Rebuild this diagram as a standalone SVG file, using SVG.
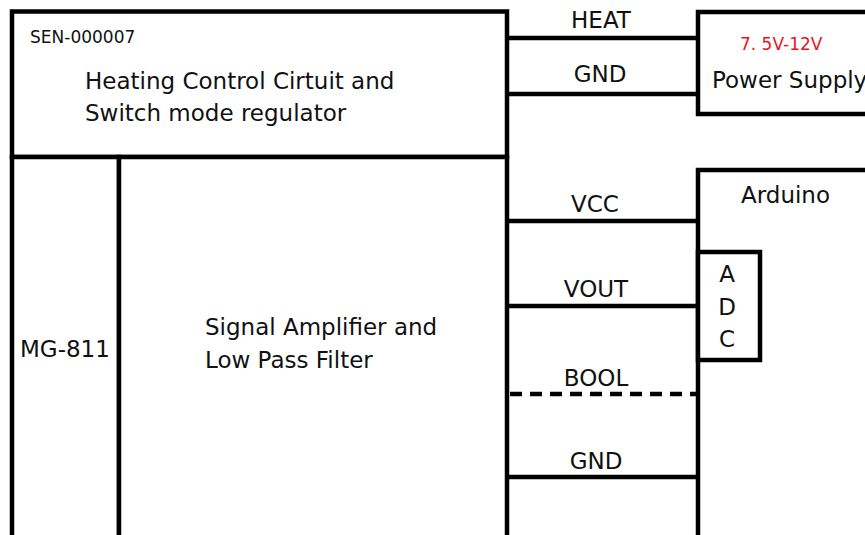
<svg xmlns="http://www.w3.org/2000/svg" width="865" height="535" viewBox="0 0 865 535">
<style>
.box{fill:#fff;stroke:#000;stroke-width:4.5}
.ln{stroke:#000;stroke-width:4.5;fill:none}
.dash{stroke-dasharray:12 8}
text{font-family:"DejaVu Sans","Liberation Sans",sans-serif;fill:#111}
.t{font-size:23px}
.s{font-size:17px}
.m{text-anchor:middle}
.red{fill:#e8141c}
</style>
<rect width="865" height="535" fill="#fff"/>
<g id="connectors">
<line class="ln" x1="507" y1="38" x2="698" y2="38"/>
<line class="ln" x1="507" y1="94" x2="698" y2="94"/>
<line class="ln" x1="507" y1="221" x2="698" y2="221"/>
<line class="ln" x1="507" y1="306" x2="698" y2="306"/>
<line class="ln dash" x1="510" y1="394" x2="698" y2="394"/>
<line class="ln" x1="507" y1="477" x2="698" y2="477"/>
<text class="t m" x="601" y="28">HEAT</text>
<text class="t m" x="600" y="82">GND</text>
<text class="t m" x="595" y="212">VCC</text>
<text class="t m" x="596" y="297">VOUT</text>
<text class="t m" x="596" y="386">BOOL</text>
<text class="t m" x="596" y="469">GND</text>
</g>
<g id="heating">
<rect class="box" x="12" y="11.5" width="495" height="145.5"/>
<text class="s" x="30" y="43">SEN-000007</text>
<text class="t" x="85" y="89">Heating Control Cirtuit and</text>
<text class="t" x="85" y="121">Switch mode regulator</text>
</g>
<g id="mg811">
<rect class="box" x="12" y="157" width="107" height="390"/>
<text class="t" x="20" y="357">MG-811</text>
</g>
<g id="amplifier">
<rect class="box" x="119" y="157" width="388" height="390"/>
<text class="t" x="205" y="335">Signal Amplifier and</text>
<text class="t" x="205" y="368">Low Pass Filter</text>
</g>
<g id="power">
<rect class="box" x="698" y="12" width="200" height="102"/>
<text class="s red" x="740" y="50">7. 5V-12V</text>
<text class="t" x="712" y="88">Power Supply</text>
</g>
<g id="arduino">
<rect class="box" x="698" y="170" width="200" height="400"/>
<text class="t" x="741" y="203">Arduino</text>
</g>
<g id="adc">
<rect class="box" x="698" y="252" width="62" height="108"/>
<text class="t m" x="727" y="282">A</text>
<text class="t m" x="727" y="315">D</text>
<text class="t m" x="727" y="347">C</text>
</g>
</svg>
